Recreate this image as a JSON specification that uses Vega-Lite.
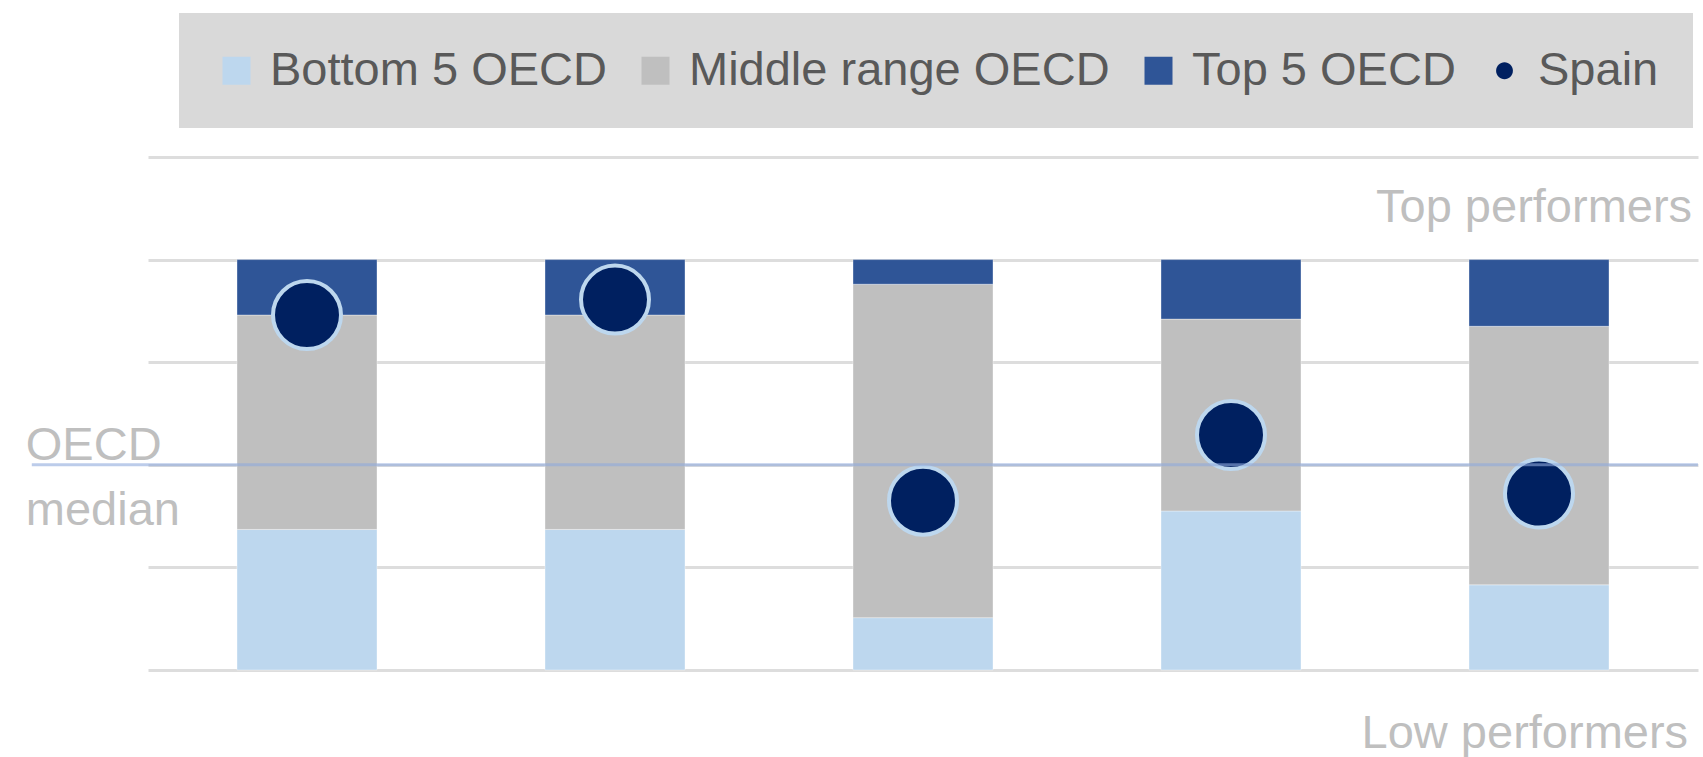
{
  "$schema": "https://vega.github.io/schema/vega-lite/v6.json",
  "width": 1550,
  "height": 513,
  "autosize": {"type": "none"},
  "padding": {"left": 148, "top": 157, "right": 5, "bottom": 87},
  "background": "white",
  "config": {"view": {"stroke": null}, "font": "Liberation Sans"},
  "datasets": {
    "segments": [
      {"indicator": 1, "series": "Bottom 5 OECD", "share": 1.37},
      {"indicator": 1, "series": "Middle range OECD", "share": 2.09},
      {"indicator": 1, "series": "Top 5 OECD", "share": 0.54},
      {"indicator": 2, "series": "Bottom 5 OECD", "share": 1.37},
      {"indicator": 2, "series": "Middle range OECD", "share": 2.09},
      {"indicator": 2, "series": "Top 5 OECD", "share": 0.54},
      {"indicator": 3, "series": "Bottom 5 OECD", "share": 0.51},
      {"indicator": 3, "series": "Middle range OECD", "share": 3.25},
      {"indicator": 3, "series": "Top 5 OECD", "share": 0.24},
      {"indicator": 4, "series": "Bottom 5 OECD", "share": 1.55},
      {"indicator": 4, "series": "Middle range OECD", "share": 1.87},
      {"indicator": 4, "series": "Top 5 OECD", "share": 0.58},
      {"indicator": 5, "series": "Bottom 5 OECD", "share": 0.83},
      {"indicator": 5, "series": "Middle range OECD", "share": 2.52},
      {"indicator": 5, "series": "Top 5 OECD", "share": 0.65}
    ],
    "spain": [
      {"indicator": 1, "series": "Spain", "score": 3.46},
      {"indicator": 2, "series": "Spain", "score": 3.61},
      {"indicator": 3, "series": "Spain", "score": 1.65},
      {"indicator": 4, "series": "Spain", "score": 2.29},
      {"indicator": 5, "series": "Spain", "score": 1.72}
    ]
  },
  "layer": [
    {
      "data": {"name": "segments"},
      "mark": {"type": "bar", "width": 140, "stroke": "white", "strokeWidth": 1, "strokeOpacity": 0.35},
      "encoding": {
        "x": {"field": "indicator", "type": "quantitative", "scale": {"domain": [0.5, 5.5], "nice": false, "zero": false}, "axis": null},
        "y": {"field": "share", "type": "quantitative", "stack": "zero",
              "scale": {"domain": [0, 5], "nice": false},
              "axis": {"values": [0, 1, 2, 3, 4, 5], "grid": true, "gridColor": "#DDDDDD", "gridWidth": 3, "labels": false, "ticks": false, "domain": false, "title": null}},
        "color": {
          "field": "series", "type": "nominal",
          "scale": {"domain": ["Bottom 5 OECD", "Middle range OECD", "Top 5 OECD", "Spain"], "range": ["#BDD7EE", "#BFBFBF", "#2F5597", "#002060"]},
          "legend": {
            "orient": "none", "legendX": 31, "legendY": -144, "direction": "horizontal",
            "title": null, "fillColor": "#D9D9D9", "padding": 34,
            "labelFont": "Liberation Sans", "labelFontSize": 47, "labelColor": "#595959",
            "labelOffset": 10, "labelLimit": 800, "columnPadding": 25,
            "symbolSize": 784, "symbolOpacity": 1, "symbolStrokeWidth": 0
          }
        },
        "order": {"field": "series", "sort": "ascending"}
      }
    },
    {
      "data": {"name": "spain"},
      "mark": {"type": "point", "filled": true, "size": 12844, "opacity": 1, "stroke": "#BDD7EE", "strokeWidth": 4},
      "encoding": {
        "x": {"field": "indicator", "type": "quantitative"},
        "y": {"field": "score", "type": "quantitative"},
        "color": {"field": "series", "type": "nominal"},
        "shape": {"field": "series", "type": "nominal",
                  "scale": {"domain": ["Bottom 5 OECD", "Middle range OECD", "Top 5 OECD", "Spain"],
                            "range": ["square", "square", "square", "M -0.6,0 A 0.6,0.6 0 1,1 0.6,0 A 0.6,0.6 0 1,1 -0.6,0 Z"]}}
      }
    },
    {
      "data": {"values": [{"label": "Top performers"}]},
      "mark": {"type": "text", "align": "right", "baseline": "alphabetic", "fontSize": 47, "color": "#BFBFBF", "font": "Liberation Sans"},
      "encoding": {"x": {"datum": 5.497}, "y": {"datum": 4.369}, "text": {"field": "label"}}
    },
    {
      "data": {"values": [{"label": "Low performers"}]},
      "mark": {"type": "text", "align": "right", "baseline": "alphabetic", "fontSize": 47, "color": "#BFBFBF", "font": "Liberation Sans"},
      "encoding": {"x": {"datum": 5.484}, "y": {"datum": -0.763}, "text": {"field": "label"}}
    },
    {
      "data": {"values": [{"label": "OECD median"}]},
      "mark": {"type": "text", "align": "left", "baseline": "alphabetic", "fontSize": 47, "color": "#BFBFBF", "font": "Liberation Sans", "lineHeight": 65, "lineBreak": " "},
      "encoding": {"x": {"datum": 0.087}, "y": {"datum": 2.047}, "text": {"field": "label"}}
    },
    {
      "data": {"values": [{"median": 2}]},
      "mark": {"type": "rule", "color": "#8FAADC", "opacity": 0.6, "strokeWidth": 3},
      "encoding": {"y": {"field": "median", "type": "quantitative"}, "x": {"datum": 0.1065}, "x2": {"datum": 5.516}}
    }
  ]
}
